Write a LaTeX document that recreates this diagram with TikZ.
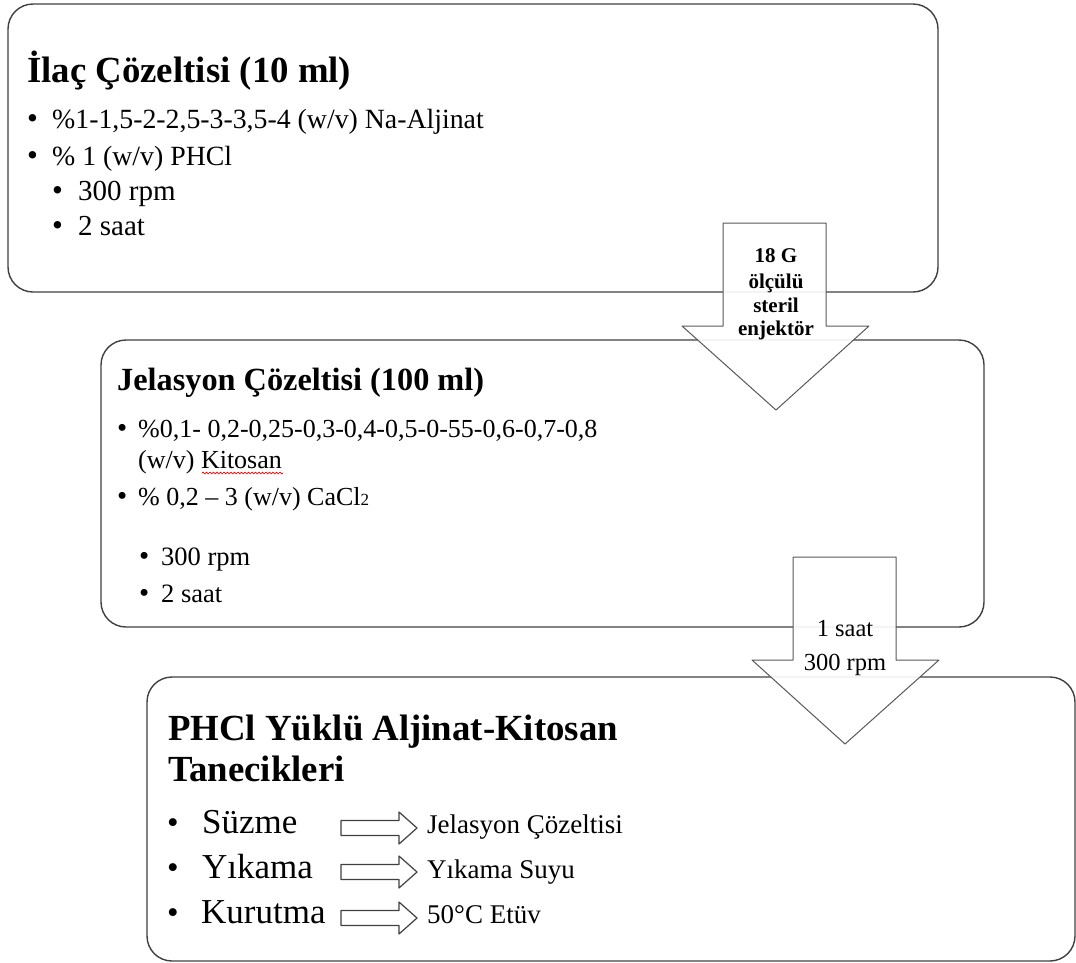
\documentclass[tikz,border=0pt]{standalone}
\usepackage{fontspec}
\setmainfont{Liberation Serif}
\usetikzlibrary{decorations.pathmorphing}
\newcommand{\fsz}[1]{\fontsize{#1}{#1}\selectfont}

\begin{document}
\begin{tikzpicture}[line cap=round,line join=round,x=1pt,y=-1pt,
    box/.style={draw=black!75,line width=1.4pt,rounded corners=25pt},
    bigarrow/.style={draw=black!65,line width=1pt,fill=white,fill opacity=0.92},
    smallarrow/.style={draw=black!75,line width=1.2pt,fill=white},
    txt/.style={anchor=base west,inner sep=0pt},
    lbl/.style={anchor=base,inner sep=0pt}]
      \useasboundingbox (0,0) rectangle (1076,962);

      % the three boxes
      \draw[box] (8,4) rectangle (938,292);
      \draw[box] (101,340) rectangle (984,627);
      \draw[box] (147,677) rectangle (1075,961);

      % box 1
      \node[txt] (ilac) at (27,82) {\fsz{36.8}\bfseries İlaç Çözeltisi (10 ml)};
      \node[txt] (ilacA) at (52,128) {\fsz{27.8}\%1-1,5-2-2,5-3-3,5-4 (w/v) Na-Aljinat};
      \node[txt] (ilacB) at (52,165) {\fsz{27.8}\% 1 (w/v) PHCl};
      \node[txt] (ilacC) at (78,200) {\fsz{29}300 rpm};
      \node[txt] (ilacD) at (78,235) {\fsz{29}2 saat};
      \foreach \x/\y [count=\i] in {27/128,27/165,52/200,52/235}
        \node[txt] (dotA\i) at (\x,\y) {\fsz{31}\textbullet};

      % box 2
      \node[txt] (jel) at (117,390) {\fsz{32.3}\bfseries Jelasyon Çözeltisi (100 ml)};
      \node[txt] (jelA) at (138,437) {\fsz{26}\%0,1- 0,2-0,25-0,3-0,4-0,5-0-55-0,6-0,7-0,8};
      \node[txt] (jelB) at (138,468) {\fsz{26}(w/v) Kitosan};
      \node[txt] (jelC) at (138,505) {\fsz{26}\% 0,2 -- 3 (w/v) CaCl{\fsz{17}2}};
      \node[txt] (jelD) at (161,565) {\fsz{26.5}300 rpm};
      \node[txt] (jelE) at (161,602) {\fsz{26.5}2 saat};
      \foreach \x/\y [count=\i] in {117/437,117/505,139/565,139/602}
        \node[txt] (dotB\i) at (\x,\y) {\fsz{29}\textbullet};
      \draw[red,line width=0.7pt,decorate,decoration={snake,amplitude=0.9pt,segment length=3.5pt}]
        (202,473) -- (283,473);

      % box 3
      \node[txt] (phcl) at (168,740) {\fsz{36.8}\bfseries PHCl Yüklü Aljinat-Kitosan};
      \node[txt] (tane) at (168,781) {\fsz{36.8}\bfseries Tanecikleri};
      \node[txt] (suz) at (202,833) {\fsz{35}Süzme};
      \node[txt] (yik) at (202,878) {\fsz{35}Yıkama};
      \node[txt] (kur) at (201,923) {\fsz{35}Kurutma};
      \foreach \y [count=\i] in {833,878,923}
        \node[txt] (dotC\i) at (167,\y) {\fsz{33}\textbullet};
      \foreach \y in {828,872,918}
        \draw[smallarrow] (341,\y-7.5) -- (399,\y-7.5) -- (399,\y-16) -- (417,\y)
          -- (399,\y+16) -- (399,\y+7.5) -- (341,\y+7.5) -- cycle;
      \node[txt] (suzR) at (427,833) {\fsz{27}Jelasyon Çözeltisi};
      \node[txt] (yikR) at (427,878) {\fsz{27}Yıkama Suyu};
      \node[txt] (kurR) at (427,923) {\fsz{27}50°C Etüv};

      % block arrows between boxes
      \draw[bigarrow] (723,223) -- (826,223) -- (826,326) -- (869,326) -- (776,410)
        -- (682,326) -- (723,326) -- cycle;
      \foreach \t/\y [count=\i] in {18 G/262,ölçülü/288,steril/312,enjektör/335}
        \node[lbl] (inj\i) at (776,\y) {\fsz{21}\bfseries \t};
      \draw[bigarrow] (793,557) -- (896,557) -- (896,660) -- (939,660) -- (845,744)
        -- (752,660) -- (793,660) -- cycle;
      \node[lbl] (mixA) at (845,636) {\fsz{24.5}1 saat};
      \node[lbl] (mixB) at (845,670) {\fsz{24.5}300 rpm};
\end{tikzpicture}
\end{document}
